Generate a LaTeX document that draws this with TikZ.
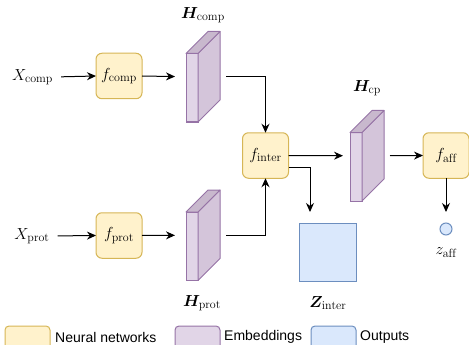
\RequirePackage{fix-cm}
\documentclass[tikz,border=0pt]{standalone}
\usepackage{amsmath,bm}
\usepackage{fontspec}
\newfontfamily\legfont{Liberation Sans}
\DeclareMathSizes{16}{16}{12}{9}
\usetikzlibrary{arrows.meta,calc}
\definecolor{nnF}{HTML}{FFF2CC}
\definecolor{nnD}{HTML}{D6B656}
\definecolor{emF}{HTML}{E1D5E7}
\definecolor{emD}{HTML}{9673A6}
\definecolor{emS}{HTML}{D4C5DA}
\definecolor{emT}{HTML}{C8B8CD}
\definecolor{ouF}{HTML}{DAE8FC}
\definecolor{ouD}{HTML}{6C8EBF}
\newcommand\prismfaces[1]{%
  \draw[emD, fill=emF, line width=1pt] (#1.south west) rectangle ++(12,-68.5);
  \draw[emD, fill=emS, line width=1pt, line join=round] ($(#1.south west)+(12,0)$) -- ++(22,-22) -- ++(0,-68.5) -- ++(-22,22) -- cycle;
  \draw[emD, fill=emT, line width=1pt, line join=round] ($(#1.south west)+(0,-68.5)$) -- ++(22,-22) -- ++(12,0) -- ++(-22,22) -- cycle;}
\tikzset{
  nn/.style={draw=nnD, fill=nnF, rounded corners=6pt, minimum width=46pt, minimum height=45.5pt, line width=1pt, inner sep=0pt, outer sep=0pt, font=\fontsize{16}{19}\selectfont},
  prism/.style={minimum width=34pt, minimum height=90.5pt, inner sep=0pt, outer sep=0pt},
  lbl/.style={inner sep=0pt, font=\fontsize{16}{19}\selectfont},
  arr/.style={line width=1pt, -{Stealth[length=9pt,width=8pt]}},
  legbox/.style={line width=1pt, rounded corners=4pt},
  legtxt/.style={anchor=west, inner sep=0pt, font=\legfont\fontsize{14}{16}\selectfont},
}
\begin{document}
\begin{tikzpicture}[x=1pt,y=-1pt]
\useasboundingbox (0,0) rectangle (469,345);
\clip (0,0) rectangle (469,345);
% inputs
\node[lbl] (xcomp) at (32.5,77) {$X_{\mathrm{comp}}$};
\node[lbl] (xprot) at (32,236) {$X_{\mathrm{prot}}$};
% networks
\node[nn] (fcomp) at (119,76) {$f_{\mathrm{comp}}$};
\node[nn] (fprot) at (119,235.5) {$f_{\mathrm{prot}}$};
\node[nn] (finter) at (265.5,155.5) {$f_{\mathrm{inter}}$};
\node[nn] (faff) at (446,155.5) {$f_{\mathrm{aff}}$};
% embeddings
\node[prism] (hcomp) at (203,76.75) {};
\node[prism] (hprot) at (203,235.25) {};
\node[prism] (hcp) at (367,155.75) {};
\prismfaces{hcomp}
\prismfaces{hprot}
\prismfaces{hcp}
\node[lbl] (lhcomp) at (203,15) {$\bm{H}_{\mathrm{comp}}$};
\node[lbl] (lhprot) at (202,303) {$\bm{H}_{\mathrm{prot}}$};
\node[lbl] (lhcp) at (367,88) {$\bm{H}_{\mathrm{cp}}$};
% outputs
\node[draw=ouD, fill=ouF, line width=1pt, minimum width=57pt, minimum height=58pt, inner sep=0pt, outer sep=0pt] (zinter) at (327.5,252) {};
\node[lbl] (lzinter) at (328,303) {$\bm{Z}_{\mathrm{inter}}$};
\node[circle, draw=ouD, fill=ouF, line width=1pt, minimum size=12pt, inner sep=0pt, outer sep=0pt] (zaff) at (446,229) {};
\node[lbl] (lzaff) at (446,253) {$z_{\mathrm{aff}}$};
% connectors
\draw[arr, shorten <=8pt] (xcomp.east) -- (fcomp.west);
\draw[arr, shorten <=8pt] (xprot.east) -- (fprot.west);
\draw[arr, shorten >=11pt] (fcomp.east) -- (hcomp.west);
\draw[arr, shorten >=11pt] (fprot.east) -- (hprot.west);
\draw[arr, shorten <=6pt] (hcomp.east) -| (finter.north);
\draw[arr, shorten <=6pt] (hprot.east) -| (finter.south);
\draw[arr, shorten >=7pt] (finter.east) -- (hcp.west);
\draw[arr, shorten >=11pt] ([yshift=-11.5pt]finter.east) -| ([xshift=-17.5pt]zinter.north);
\draw[arr, shorten <=6pt] (hcp.east) -- (faff.west);
\draw[arr, shorten >=11pt] (faff.south) -- (zaff.north);
% legend
\draw[legbox, draw=nnD, fill=nnF] (5,326) rectangle (50,360);
\node[legtxt] (l1) at (55,337) {Neural networks};
\draw[legbox, draw=emD, fill=emF] (175,326) rectangle (220,360);
\node[legtxt] (l2) at (224,337) {Embeddings};
\draw[legbox, draw=ouD, fill=ouF] (311,326) rectangle (356,360);
\node[legtxt] (l3) at (360,337) {Outputs};
\end{tikzpicture}
\end{document}
